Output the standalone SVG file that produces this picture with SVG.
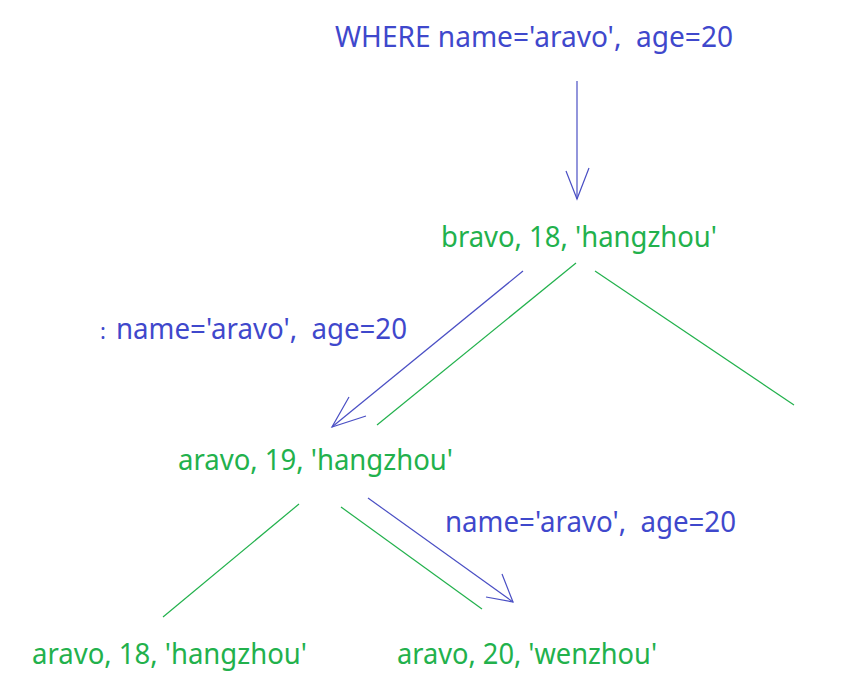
<svg xmlns="http://www.w3.org/2000/svg" width="844" height="690" viewBox="0 0 844 690">
<defs>
<style>
text{font-family:"Noto Sans","Open Sans","DejaVu Sans",sans-serif;font-size:29px;white-space:pre}
.b{fill:#3f48cc}
.g{fill:#22b14c}
.lb{stroke:#4a4fc4;stroke-width:1.2;fill:none}
.lg{stroke:#22b14c;stroke-width:1.2;fill:none}
</style>
</defs>
<rect width="844" height="690" fill="#ffffff"/>
<g id="query-top"><text class="b" x="335" y="47" textLength="398" lengthAdjust="spacingAndGlyphs">WHERE name='aravo',&#160; age=20</text></g>
<g id="node-bravo18"><text class="g" x="441" y="247" textLength="276" lengthAdjust="spacingAndGlyphs">bravo, 18, 'hangzhou'</text></g>
<g id="query-left"><text class="b" x="100" y="339" style="font-size:22px">:</text><text class="b" x="116" y="339" textLength="291" lengthAdjust="spacingAndGlyphs">name='aravo',&#160; age=20</text></g>
<g id="node-aravo19"><text class="g" x="178" y="470" textLength="275" lengthAdjust="spacingAndGlyphs">aravo, 19, 'hangzhou'</text></g>
<g id="query-right"><text class="b" x="445" y="532" textLength="291" lengthAdjust="spacingAndGlyphs">name='aravo',&#160; age=20</text></g>
<g id="node-aravo18"><text class="g" x="32" y="664" textLength="275" lengthAdjust="spacingAndGlyphs">aravo, 18, 'hangzhou'</text></g>
<g id="node-aravo20"><text class="g" x="397" y="664" textLength="260" lengthAdjust="spacingAndGlyphs">aravo, 20, 'wenzhou'</text></g>
<g id="connectors">
<line class="lb" x1="577" y1="81" x2="577" y2="199"/>
<polyline class="lb" points="566,171 577,199 589,168"/>
<line class="lb" x1="523" y1="271" x2="332" y2="427"/>
<polyline class="lb" points="349,397 332,427 366,416"/>
<line class="lg" x1="576" y1="263" x2="377" y2="425"/>
<line class="lg" x1="595" y1="271" x2="794" y2="405"/>
<line class="lg" x1="299" y1="504" x2="163" y2="617"/>
<line class="lg" x1="341" y1="507" x2="482" y2="609"/>
<line class="lb" x1="368" y1="498" x2="513" y2="602"/>
<polyline class="lb" points="502,574 513,602 486,597"/>
</g>
</svg>
